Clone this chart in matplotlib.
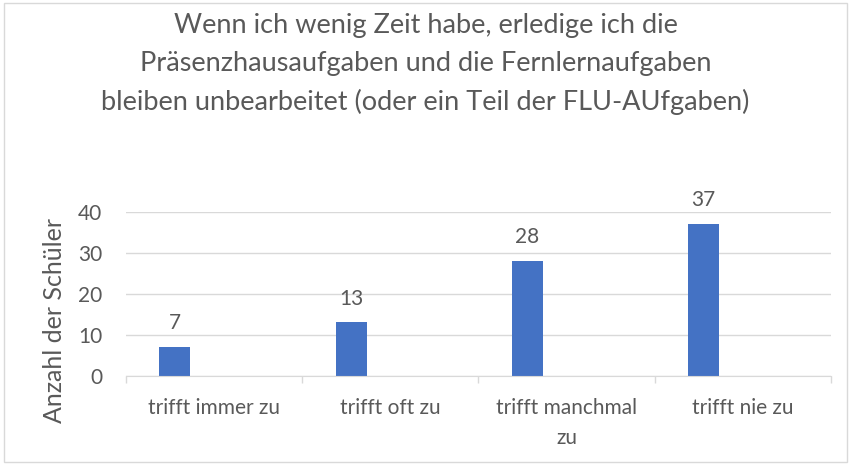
import matplotlib
matplotlib.use('Agg')
import matplotlib.pyplot as plt
from matplotlib.patches import Rectangle
from matplotlib.ticker import FixedLocator

plt.rcParams['font.family'] = ['Lato', 'DejaVu Sans']

categories = ['trifft immer zu', 'trifft oft zu', 'trifft manchmal\nzu', 'trifft nie zu']
values = [7, 13, 28, 37]
y_ticks = [0, 10, 20, 30, 40]
title = ('Wenn ich wenig Zeit habe, erledige ich die\n'
         'Präsenzhausaufgaben und die Fernlernaufgaben\n'
         'bleiben unbearbeitet (oder ein Teil der FLU-AUfgaben)')
y_label = 'Anzahl der Schüler'

text_color = '#595959'
grid_color = '#D9D9D9'
bar_color = '#4472C4'

fig = plt.figure(figsize=(8.51, 4.65), dpi=100)
ax = fig.add_axes([0.148, 0.192, 0.8285, 0.3527])

# chart border
fig.patches.append(Rectangle((0.005, 0.006), 0.99, 0.988, transform=fig.transFigure,
                             fill=False, edgecolor=grid_color, linewidth=1))

x = list(range(len(categories)))
bar_x = [i - 0.222 for i in x]
bars = ax.bar(bar_x, values, width=0.176, color=bar_color, zorder=3)

for xi, v in zip(bar_x, values):
    ax.annotate(str(v), (xi, v), xytext=(0, 10), textcoords='offset points',
                ha='center', va='bottom', fontsize=15, color=text_color)

ax.set_xlim(-0.5, len(categories) - 0.5)
ax.set_ylim(0, 40)
ax.set_yticks(y_ticks)
ax.set_xticks(x)
ax.set_xticklabels(categories, fontsize=15, color=text_color, linespacing=1.65)
ax.xaxis.set_minor_locator(FixedLocator([i - 0.5 for i in range(len(categories) + 1)]))
ax.tick_params(axis='x', which='major', length=0, pad=16)
ax.tick_params(axis='x', which='minor', length=5, color=grid_color, width=1)
ax.tick_params(axis='y', length=0, pad=17, labelsize=15, labelcolor=text_color)

ax.grid(axis='y', color=grid_color, linewidth=1, zorder=0)
for side in ['top', 'right', 'left']:
    ax.spines[side].set_visible(False)
ax.spines['bottom'].set_color(grid_color)
ax.spines['bottom'].set_zorder(4)

fig.text(0.5, 1 - 64 / 465, title, ha='center', va='center', fontsize=19.5,
         color=text_color, linespacing=1.62)
fig.text(0.064, 1 - 320 / 465, y_label, rotation=90, ha='center', va='center',
         fontsize=18, color=text_color)

fig.savefig('out.png', dpi=100)
